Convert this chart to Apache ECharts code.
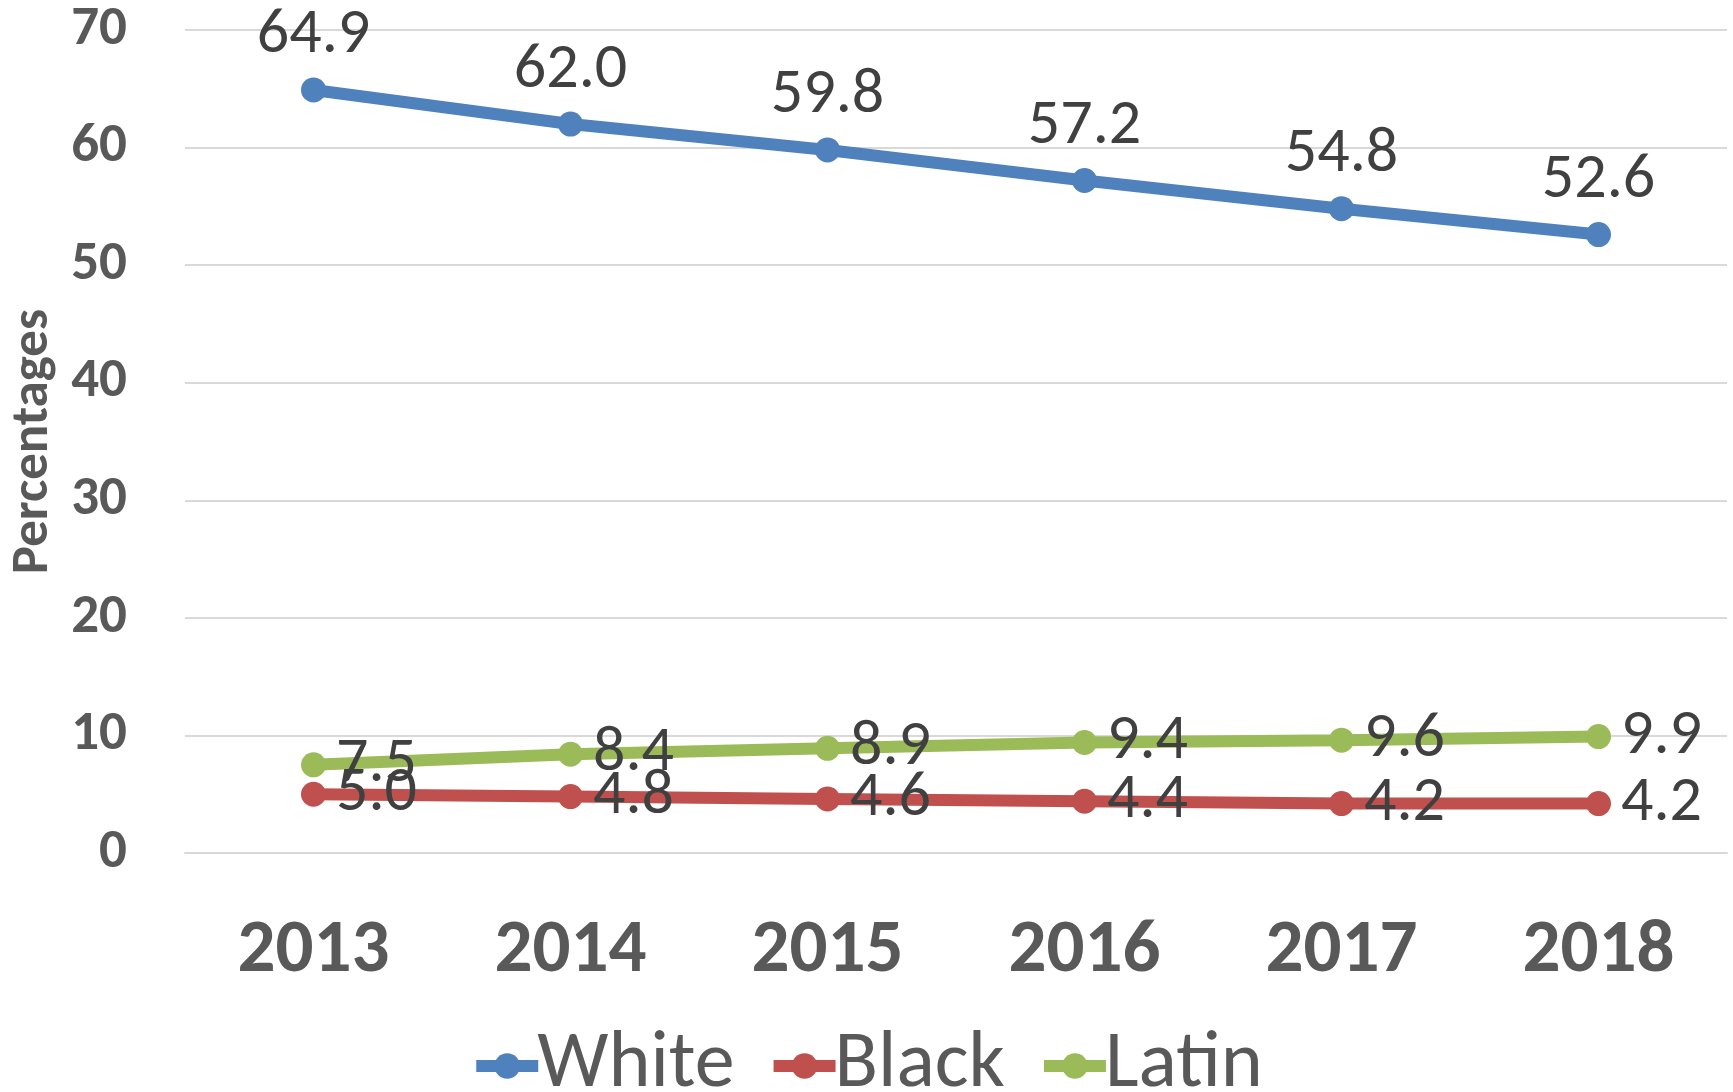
<!DOCTYPE html>
<html>
<head>
<meta charset="utf-8">
<script src="https://cdn.jsdelivr.net/npm/echarts@6/dist/echarts.min.js"></script>
<style>
html,body{margin:0;padding:0;background:#fff;}
#chart{width:1733px;height:1092px;}
</style>
</head>
<body>
<div id="chart"></div>
<script>
const years = ['2013', '2014', '2015', '2016', '2017', '2018'];
const whiteValues = [64.9, 62.0, 59.8, 57.2, 54.8, 52.6];
const blackValues = [5.0, 4.8, 4.6, 4.4, 4.2, 4.2];
const latinValues = [7.5, 8.4, 8.9, 9.4, 9.6, 9.9];
const seriesNames = ['White', 'Black', 'Latin'];
const yAxisTitle = 'Percentages';

const FONT = 'Carlito, "Open Sans", sans-serif';
const colors = ['#4F81BD', '#C0504D', '#9BBB59'];

function makeSeries(name, data, color, labelPos) {
  return {
    name: name,
    type: 'line',
    data: data,
    symbol: 'circle',
    symbolSize: 25,
    itemStyle: { color: color },
    lineStyle: { color: color, width: 12 },
    label: {
      show: true,
      position: labelPos,
      distance: labelPos === 'top' ? 9 : 10,
      color: '#404040',
      fontFamily: FONT,
      fontSize: 64,
      formatter: p => p.value.toFixed(1)
    },
    emphasis: { disabled: true },
    animation: false
  };
}

const chart = echarts.init(document.getElementById('chart'));
chart.setOption({
  backgroundColor: '#ffffff',
  animation: false,
  color: colors,
  grid: { left: 185, right: 6, top: 30, bottom: 239, containLabel: false, outerBoundsMode: 'none' },
  legend: {
    data: seriesNames,
    bottom: -19,
    left: 'center',
    itemWidth: 62,
    itemHeight: 32,
    itemGap: 33,
    lineStyle: { width: 12 },
    textStyle: { fontFamily: FONT, fontSize: 80, color: '#595959', padding: [0, 0, 0, -6] }
  },
  xAxis: {
    type: 'category',
    data: years,
    boundaryGap: true,
    axisLine: { show: true, lineStyle: { color: '#D9D9D9', width: 2 } },
    axisTick: { show: false },
    axisLabel: { fontFamily: FONT, fontSize: 75, fontWeight: 'bold', color: '#595959', margin: 62 }
  },
  yAxis: {
    type: 'value',
    min: 0,
    max: 70,
    interval: 10,
    name: yAxisTitle,
    nameLocation: 'middle',
    nameGap: 124,
    nameTextStyle: { fontFamily: FONT, fontSize: 53, fontWeight: 'bold', color: '#595959' },
    axisLine: { show: false },
    axisTick: { show: false },
    splitLine: { lineStyle: { color: '#D9D9D9', width: 2 } },
    axisLabel: { fontFamily: FONT, fontSize: 55, fontWeight: 'bold', color: '#595959', margin: 58 }
  },
  series: [
    makeSeries(seriesNames[0], whiteValues, colors[0], 'top'),
    makeSeries(seriesNames[1], blackValues, colors[1], 'right'),
    makeSeries(seriesNames[2], latinValues, colors[2], 'right')
  ]
});
</script>
</body>
</html>
